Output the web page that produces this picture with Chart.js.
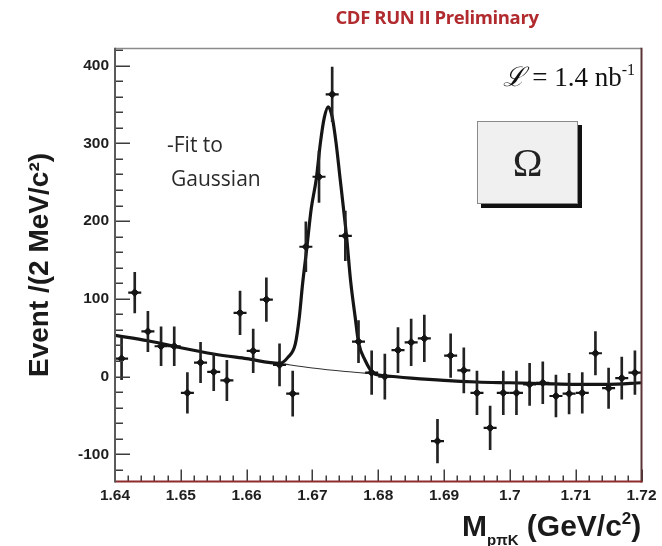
<!DOCTYPE html>
<html><head><meta charset="utf-8">
<script src="https://cdn.jsdelivr.net/npm/chart.js@4.4.0/dist/chart.umd.min.js"></script>
<style>
html,body{margin:0;padding:0;background:#fff;}
#wrap{position:relative;width:662px;height:546px;overflow:hidden;background:#fff;}
canvas{position:absolute;left:0;top:0;}
.t{position:absolute;white-space:nowrap;}
#title{left:437px;top:4px;transform:translateX(-50%);font-family:"Open Sans";font-weight:700;font-size:18.5px;color:#b02a2e;letter-spacing:-0.4px;}
#fit{left:167px;top:127px;font-family:"Open Sans";font-size:21px;color:#2a2a2a;line-height:34px;}
#lumi{right:27px;top:62px;font-family:"Liberation Serif";font-size:27px;color:#111;line-height:30px;}
#lumi .sup{font-size:16px;position:relative;top:-11px;}
#omega{left:477px;top:121px;width:99px;height:81px;border:1px solid #8a8a8a;background:#f0f0f0;box-shadow:4px 4px 0 #111;font-family:"Liberation Serif";font-size:40px;color:#222;display:flex;align-items:center;justify-content:center;}
#xtitle{left:462px;top:511px;font-family:"Liberation Sans";font-weight:700;font-size:30px;color:#1a1a1a;line-height:30px;}
#xtitle .sub{font-size:15px;position:relative;top:9px;}
#xtitle .sup{font-size:17px;position:relative;top:-12px;}
</style></head><body>
<div id="wrap">
<canvas id="c" width="662" height="546"></canvas>
<div class="t" id="title">CDF RUN II Preliminary</div>
<div class="t" id="fit">-Fit to<br><span style="padding-left:4px">Gaussian</span></div>
<div class="t" id="lumi"><i>ℒ</i> = 1.4 nb<span class="sup">-1</span></div>
<div class="t" id="omega">Ω</div>
<div class="t" id="xtitle">M<span class="sub">pπK</span> (GeV/c<span class="sup">2</span>)</div>
</div>
<script>
// ---- data ----
const binCenters = [1.641,1.643,1.645,1.647,1.649,1.651,1.653,1.655,1.657,1.659,
                    1.661,1.663,1.665,1.667,1.669,1.671,1.673,1.675,1.677,1.679,
                    1.681,1.683,1.685,1.687,1.689,1.691,1.693,1.695,1.697,1.699,
                    1.701,1.703,1.705,1.707,1.709,1.711,1.713,1.715,1.717,1.719];
const counts = [23,108,58,39,39,-21,18,6,-5,82,
                33,99,15,-22,167,257,363,181,45,5,
                0,34,44,49,-83,27,8,-21,-66,-21,
                -21,-10,-8,-25,-22,-21,30,-15,-2,5];
const errors = [27,26,26,25,25,26,26,24,26,28,
                28,28,27,29,32,33,35,32,27,28,
                29,29,30,30,28,28,29,28,28,28,
                28,27,27,27,26,26,28,26,27,28];
// total fit (Gaussian + background)
const fitX = [1.640,1.645,1.650,1.655,1.660,1.665,1.6663,1.6674,1.6680,1.6685,1.6691,1.6698,1.6706,1.6712,1.6718,1.6724,
              1.6730,1.6736,1.6742,1.6748,1.6752,1.6758,1.6765,1.6770,1.6780,1.6793,1.681,1.685,1.690,1.695,1.700,1.705,1.710,1.715,1.720];
const fitY = [53,46,37,29,23,17,25,42,76,119,162,215,255,300,333,347,
              334,300,255,210,179,123,76,44,21,4,1,-2,-5,-7,-8,-9,-10,-10,-8];
// background only (thin line under the peak)
const bgX = [1.665,1.670,1.675,1.680];
const bgY = [17,11,6.5,3];
// axes
const xRange = [1.64, 1.72];
const yRange = [-135, 422];
const xMinorStep = 0.002;
const yMinorStep = 20;
const yMajorStep = 100;

const ink = '#151515';

const frameTicks = {
  id: 'frameTicks',
  afterDraw(chart) {
    const {ctx, chartArea: a, scales: {x, y}} = chart;
    ctx.save();
    ctx.strokeStyle = '#3c3c3c';
    ctx.lineWidth = 1.5;
    ctx.beginPath();
    y.ticks.forEach(t => {
      const py = Math.round(y.getPixelForValue(t.value)) + 0.25;
      const len = (Math.round(t.value) % yMajorStep === 0) ? 15 : 8;
      ctx.moveTo(a.left, py); ctx.lineTo(a.left + len, py);
    });
    x.ticks.forEach(t => {
      const px = Math.round(x.getPixelForValue(t.value)) + 0.25;
      const major = Math.round(t.value * 1000) % 10 === 0;
      const len = major ? 12 : 6;
      ctx.moveTo(px, a.bottom); ctx.lineTo(px, a.bottom - len);
    });
    ctx.stroke();
    const seg = (c, w, x1, y1, x2, y2) => {
      ctx.strokeStyle = c; ctx.lineWidth = w;
      ctx.beginPath(); ctx.moveTo(x1, y1); ctx.lineTo(x2, y2); ctx.stroke();
    };
    seg('#8a8a8a', 1.5, a.left, a.top, a.right, a.top);
    seg('#5a3434', 2, a.right, a.top - 0.75, a.right, a.bottom + 1);
    seg('#8e2b2b', 2, a.left, a.bottom, a.right + 1, a.bottom);
    seg('#5a5a5a', 2, a.left, a.top - 0.75, a.left, a.bottom + 1);
    ctx.restore();
  }
};

const tickFont = {family: 'Liberation Sans', weight: 'bold', size: 15.5};

new Chart(document.getElementById('c'), {
  type: 'bar',
  data: {
    datasets: [
      {
        type: 'scatter', label: 'points', order: 1,
        data: binCenters.map((x, i) => ({x, y: counts[i]})),
        pointStyle: 'rectRot', pointRadius: 3.8,
        backgroundColor: ink, borderColor: ink, borderWidth: 1
      },
      {
        type: 'scatter', label: 'xerr', order: 1,
        data: binCenters.map((x, i) => ({x, y: counts[i]})),
        pointStyle: 'line', pointRadius: 6.5,
        borderColor: ink, borderWidth: 2.2
      },
      {
        type: 'bar', label: 'yerr', order: 2,
        data: binCenters.map((x, i) => ({x, y: [counts[i] - errors[i], counts[i] + errors[i]]})),
        backgroundColor: '#222', borderWidth: 0, barThickness: 2, grouped: false
      },
      {
        type: 'line', label: 'fit', order: 3,
        data: fitX.map((x, i) => ({x, y: fitY[i]})),
        borderColor: ink, borderWidth: 3.2, pointRadius: 0, fill: false,
        cubicInterpolationMode: 'monotone'
      },
      {
        type: 'line', label: 'background', order: 4,
        data: bgX.map((x, i) => ({x, y: bgY[i]})),
        borderColor: '#333', borderWidth: 1.1, pointRadius: 0, fill: false,
        cubicInterpolationMode: 'monotone'
      }
    ]
  },
  options: {
    responsive: false,
    animation: false,
    devicePixelRatio: 1,
    layout: {padding: {left: 10, right: 20.5, top: 48.5, bottom: 0}},
    plugins: {legend: {display: false}, tooltip: {enabled: false}, title: {display: false}},
    scales: {
      x: {
        type: 'linear', min: xRange[0], max: xRange[1], offset: false,
        grid: {display: false, drawTicks: false, offset: false},
        border: {display: false},
        ticks: {
          stepSize: xMinorStep, maxTicksLimit: 50, autoSkip: false, maxRotation: 0,
          padding: 5, color: '#1e1e1e', font: tickFont,
          callback: v => { const k = Math.round(v * 1000); return k % 10 === 0 ? String(k / 1000) : ''; }
        },
        afterFit: s => { s.height = 64.5; }
      },
      y: {
        type: 'linear', min: yRange[0], max: yRange[1],
        grid: {display: false, drawTicks: false},
        border: {display: false},
        ticks: {
          stepSize: yMinorStep, maxTicksLimit: 40, autoSkip: false, includeBounds: false,
          padding: 6, color: '#1e1e1e', font: tickFont,
          callback: v => (Math.round(v) % yMajorStep === 0 ? String(Math.round(v)) : '')
        },
        title: {
          display: true, text: 'Event /(2 MeV/c²)', color: '#1a1a1a',
          font: {family: 'Liberation Sans', weight: 'bold', size: 28},
          padding: {top: 13, bottom: 0}
        },
        afterFit: s => { s.width = 105; }
      }
    }
  },
  plugins: [frameTicks]
});
</script>
</body></html>
